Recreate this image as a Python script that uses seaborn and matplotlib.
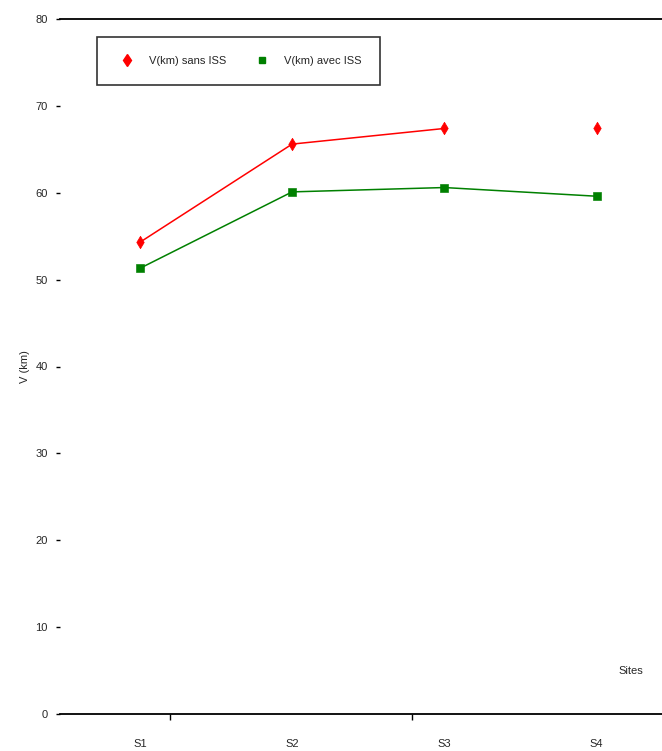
import matplotlib
matplotlib.use("Agg")
import matplotlib.pyplot as plt
import seaborn as sns
import pandas as pd
import numpy as np
from matplotlib.lines import Line2D

sites = ["S1", "S2", "S3", "S4"]
v_sans = [54.3, 65.6, 67.4, 67.4]
v_avec = [51.3, 60.1, 60.6, 59.6]
label_sans = "V(km) sans ISS"
label_avec = "V(km) avec ISS"
yticks = [0, 10, 20, 30, 40, 50, 60, 70, 80]

sns.set_style("white")
plt.rcParams['font.family'] = ['Liberation Sans', 'DejaVu Sans']

fig = plt.figure(figsize=(6.62, 7.51), dpi=100)
ax = fig.add_axes([60/662, 1-714/751, 602/662, 695/751])

x = np.arange(len(sites))
df = pd.DataFrame({"x": x, "sans": v_sans, "avec": v_avec})

# red line only joins S1..S3
sns.lineplot(data=df.iloc[:3], x="x", y="sans", ax=ax, color="red", lw=1.1)
sns.lineplot(data=df, x="x", y="avec", ax=ax, color="green", lw=1.1)
sns.scatterplot(data=df, x="x", y="sans", ax=ax, color="red", marker="d", s=40, edgecolor="red", zorder=3)
sns.scatterplot(data=df, x="x", y="avec", ax=ax, color="green", marker="s", s=30, edgecolor="green", zorder=3)

ax.set_xlim(-0.525, 3.43)
ax.set_ylim(0, 80)
ax.set_yticks(yticks)
ax.set_xticks(x)
ax.set_xticklabels(sites)
ax.set_xticks([0.2, 1.79], minor=True)
ax.tick_params(axis="x", which="major", length=0, pad=18, labelsize=8)
ax.tick_params(axis="x", which="minor", length=4, width=1, direction="out", color="black", bottom=True)
ax.tick_params(axis="y", which="major", length=3, width=1, direction="out", color="black", left=True, pad=6, labelsize=8)

for s in ["left", "right"]:
    ax.spines[s].set_visible(False)
for s in ["top", "bottom"]:
    ax.spines[s].set_visible(True)
    ax.spines[s].set_color("black")
    ax.spines[s].set_linewidth(1.3)

ax.set_xlabel("")
ax.set_ylabel("V (km)", fontsize=8, labelpad=4)
ax.text(0.928, 0.062, "Sites", transform=ax.transAxes, fontsize=8, ha="left", va="center")

handles = [
    Line2D([], [], marker="d", color="red", linestyle="none", markersize=6),
    Line2D([], [], marker="s", color="green", linestyle="none", markersize=5),
]
leg = ax.legend(handles, [label_sans, label_avec], ncol=2, loc="upper left",
                bbox_to_anchor=(0.061, 0.974), fontsize=8, frameon=True, fancybox=False,
                borderpad=1.7, columnspacing=2.2, handletextpad=1.0, borderaxespad=0)
leg.get_frame().set_edgecolor("black")
leg.get_frame().set_linewidth(1.2)

fig.savefig("out.png", dpi=100)
